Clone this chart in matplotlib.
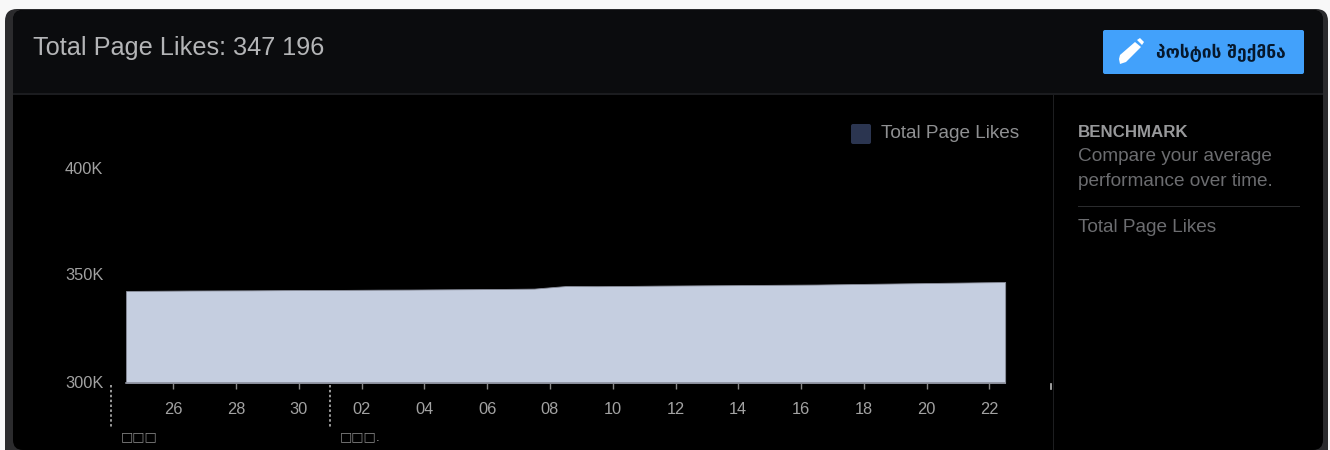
import matplotlib
matplotlib.use("Agg")
import matplotlib.pyplot as plt
from matplotlib.patches import FancyBboxPatch, Rectangle, Polygon
from matplotlib.transforms import blended_transform_factory

# ---- data ----
series_name = "Total Page Likes"
likes = [343.0, 343.1, 343.2, 343.25, 343.3, 343.4, 343.45, 343.5, 343.6, 343.65,
         343.75, 343.85, 343.95, 344.1, 345.3, 345.25, 345.35, 345.5, 345.6, 345.7,
         345.8, 345.9, 346.0, 346.2, 346.4, 346.6, 346.8, 347.0, 347.196]
day_positions = list(range(29))
tick_positions = [1.5, 3.5, 5.5, 7.5, 9.5, 11.5, 13.5, 15.5, 17.5, 19.5, 21.5, 23.5, 25.5, 27.5]
tick_labels = ["26", "28", "30", "02", "04", "06", "08", "10", "12", "14", "16", "18", "20", "22"]
month_positions = [-0.48, 6.5]
month_labels = ["□□□", "□□□."]
y_ticks = [300, 350, 400]
y_labels = ["300K", "350K", "400K"]
title = "Total Page Likes: 347 196"
button_text = "პოსტის შექმნა"

W, H = 1330, 450
FONT = ["Liberation Sans", "DejaVu Sans"]
plt.rcParams["font.family"] = FONT

fig = plt.figure(figsize=(W / 100, H / 100), dpi=100, facecolor="#f8f8f8")

# ---- page chrome, in pixel coordinates ----
bg = fig.add_axes([0, 0, 1, 1], zorder=0)
bg.set_xlim(0, W)
bg.set_ylim(H, 0)
bg.axis("off")

bg.add_patch(FancyBboxPatch((5, 9), 1323, 470, boxstyle="round,pad=0,rounding_size=12",
                            fc="#2b2b2d", ec="none"))
bg.add_patch(FancyBboxPatch((13, 10), 1310, 440, boxstyle="round,pad=0,rounding_size=10",
                            fc="#000000", ec="none"))
bg.add_patch(FancyBboxPatch((13, 10), 1310, 83, boxstyle="round,pad=0,rounding_size=10",
                            fc="#0b0c0e", ec="none"))
bg.add_patch(Rectangle((13, 40), 1310, 53, fc="#0b0c0e", ec="none"))
bg.add_patch(Rectangle((13, 93), 1310, 2, fc="#1b1c1f", ec="none"))
bg.add_patch(Rectangle((1052.5, 95), 1.2, 355, fc="#1d1e20", ec="none"))

bg.text(33, 55, title, fontsize=18.15, color="#b4b5b7", va="baseline", ha="left")

# button
bg.add_patch(FancyBboxPatch((1103, 30), 201, 44, boxstyle="round,pad=0,rounding_size=2",
                            fc="#42a1fb", ec="none"))
bg.add_patch(Polygon([(1119, 59), (1120, 55), (1135, 42), (1141, 47), (1126, 62), (1120, 64)],
                     closed=True, fc="white", ec="none"))
bg.add_patch(Polygon([(1137, 40), (1140, 38), (1144, 42), (1142, 45)],
                     closed=True, fc="white", ec="none"))
bg.text(1220.5, 53, button_text, fontsize=12.5, fontweight="bold", color="#06182c",
        family="DejaVu Sans", ha="center", va="center")

# legend
bg.add_patch(FancyBboxPatch((851, 124), 20, 20, boxstyle="round,pad=0,rounding_size=2",
                            fc="#2b3550", ec="none"))
bg.text(881, 138, series_name, fontsize=13.7, color="#8f9092", ha="left", va="baseline")

# benchmark sidebar
bg.text(1078, 137, "BENCHMARK", fontsize=12.2, fontweight="bold", color="#98999b",
        ha="left", va="baseline")
bg.text(1078, 161, "Compare your average", fontsize=13.7, color="#6c6d70", ha="left", va="baseline")
bg.text(1078, 186, "performance over time.", fontsize=13.7, color="#6c6d70", ha="left", va="baseline")
bg.add_patch(Rectangle((1078, 206), 222, 1.2, fc="#2a2b2d", ec="none"))
bg.text(1078, 232, series_name, fontsize=13.7, color="#6c6d70", ha="left", va="baseline")

# ---- chart axes ----
ax_left, ax_right, ax_top, ax_bottom = 111, 1051, 120, 383
ax = fig.add_axes([ax_left / W, 1 - ax_bottom / H, (ax_right - ax_left) / W, (ax_bottom - ax_top) / H],
                  zorder=1)
ax.patch.set_alpha(0)
ax.set_xlim(-0.48, 29.46)
ax.set_ylim(300, 300 + (ax_bottom - ax_top) / 107 * 50)

ax.fill_between(day_positions, likes, 300, facecolor="#c5cee0", edgecolor="#8b8f9c", linewidth=0.6)

for side in ("top", "left", "right"):
    ax.spines[side].set_visible(False)
ax.spines["bottom"].set_bounds(day_positions[0], day_positions[-1])
ax.spines["bottom"].set_color("#8b8f9c")
ax.spines["bottom"].set_linewidth(1.2)

ax.set_xticks(tick_positions, tick_labels)
ax.tick_params(axis="x", length=4.5, width=1, color="#888888", labelcolor="#a2a2a2",
               labelsize=11.8, pad=9.5)
ax.set_yticks(y_ticks, y_labels)
ax.tick_params(axis="y", length=0, labelcolor="#a2a2a2", labelsize=11.8, pad=5.5)
for lab in ax.get_yticklabels():
    lab.set_verticalalignment("center")

# month dividers and their labels
trans = blended_transform_factory(ax.transData, ax.transAxes)
for pos, lab in zip(month_positions, month_labels):
    ax.plot([pos, pos], [-0.008, -0.171], transform=trans, color="#c4c4c4", lw=1.1,
            linestyle=(0, (1.6, 1.6)), clip_on=False)
    ax.text(pos + 0.3, -0.205, lab, transform=trans, fontsize=9.4, color="#8a8a8a",
            family="DejaVu Sans", ha="left", va="center", clip_on=False)
# closing tick at the far right of the axis
ax.plot([29.46, 29.46], [-0.005, -0.022], transform=trans, color="#bbbbbb", lw=1.2, clip_on=False)

fig.savefig("out.png", dpi=100, facecolor=fig.get_facecolor())
